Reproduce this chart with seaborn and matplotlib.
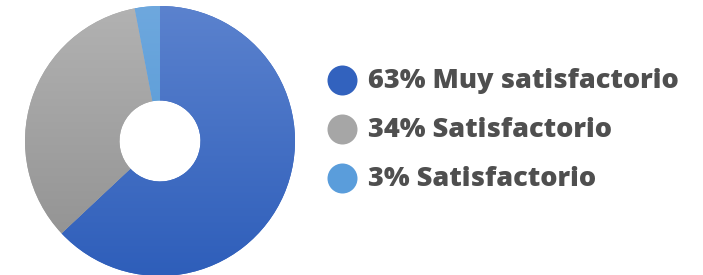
import numpy as np
import matplotlib
matplotlib.use("Agg")
import matplotlib.pyplot as plt
import seaborn as sns
from matplotlib.colors import LinearSegmentedColormap

sns.set_theme(style="white")
plt.rcParams['font.family'] = ['Open Sans', 'DejaVu Sans']

labels = ["63% Muy satisfactorio", "34% Satisfactorio", "3% Satisfactorio"]
values = [63, 34, 3]
top_colors = ["#5B82CE", "#B2B2B2", "#6EA8DE"]
bottom_colors = ["#2E5EBA", "#8F8F8F", "#4A92D2"]
legend_colors = ["#3262BE", "#A6A6A6", "#5A9DDB"]
text_color = "#4F4F4F"

W, H = 703, 275
fig = plt.figure(figsize=(W / 100, H / 100), dpi=100)

cx, cy, r = 160, 141, 135
ax = fig.add_axes([(cx - r) / W, (H - cy - r) / H, 2 * r / W, 2 * r / H])
wedges, _ = ax.pie(values, startangle=90, counterclock=False,
                   colors=legend_colors, radius=1,
                   wedgeprops=dict(width=0.7, linewidth=0))
ax.set_xlim(-1, 1)
ax.set_ylim(-1, 1)
ax.set_aspect('equal')
ax.axis('off')

grad = np.linspace(0, 1, 256).reshape(-1, 1)
for w, tc, bc in zip(wedges, top_colors, bottom_colors):
    cmap = LinearSegmentedColormap.from_list("g", [bc, tc])
    im = ax.imshow(grad, extent=[-1, 1, -1, 1], origin='lower', cmap=cmap,
                   aspect='auto', zorder=w.get_zorder() + 0.1)
    im.set_clip_path(w)
ax.set_xlim(-1, 1)
ax.set_ylim(-1, 1)

lax = fig.add_axes([0, 0, 1, 1])
lax.set_xlim(0, W)
lax.set_ylim(H, 0)
lax.axis('off')
ys = [80, 129, 178]
for y, lab, c in zip(ys, labels, legend_colors):
    lax.scatter([342], [y], s=(30 * 0.72) ** 2, color=c, linewidths=0)
    lax.text(368, y + 1, lab, fontsize=19.5, fontweight='black', color=text_color,
             va='center', ha='left')

fig.savefig("out.png", dpi=100)
